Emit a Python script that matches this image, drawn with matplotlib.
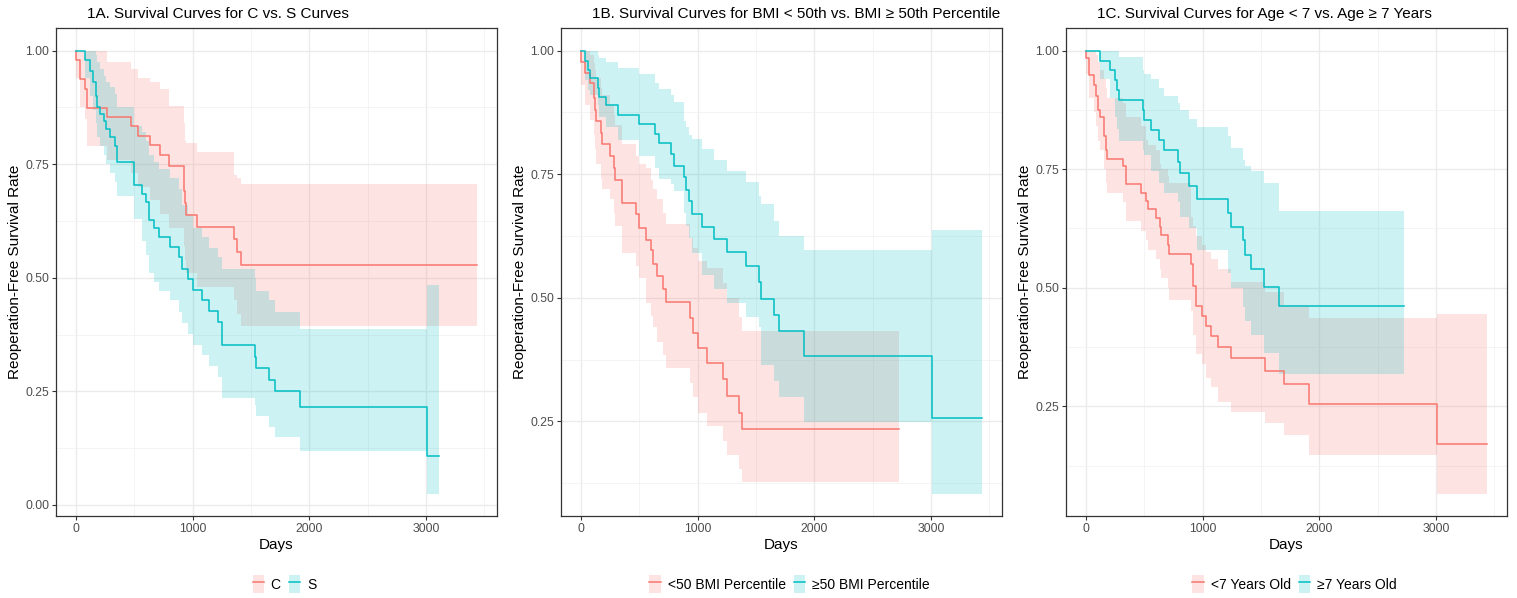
import matplotlib
matplotlib.use("Agg")
import matplotlib.pyplot as plt
from matplotlib.patches import Patch
from matplotlib.lines import Line2D
from matplotlib.ticker import MultipleLocator, FormatStrFormatter

plt.rcParams['font.family'] = ['Liberation Sans', 'DejaVu Sans']

RED = '#F8766D'
CYAN = '#00BFC4'

# ---- 1A: C vs S ----
c_days = [0, 3, 32, 74, 94, 265, 473, 530, 636, 721, 795, 925, 934, 943, 1037, 1350, 1376, 1413]
c_surv = [1.0, 0.98, 0.937, 0.915, 0.873, 0.854, 0.834, 0.813, 0.793, 0.77, 0.746, 0.69, 0.665, 0.637, 0.611, 0.585, 0.557, 0.527]
c_upper = [1.0, 1.0, 1.0, 1.0, 1.0, 0.974, 0.96, 0.94, 0.93, 0.915, 0.878, 0.84, 0.80, 0.796, 0.776, 0.727, 0.72, 0.707]
c_lower = [1.0, 0.94, 0.875, 0.85, 0.79, 0.76, 0.73, 0.70, 0.67, 0.64, 0.61, 0.57, 0.54, 0.51, 0.48, 0.452, 0.42, 0.393]
c_end = 3436

s_days = [0, 77, 120, 148, 168, 182, 202, 239, 254, 288, 330, 353, 496, 564, 601, 621, 667, 707, 801, 886,
          909, 957, 1000, 1077, 1142, 1219, 1251, 1533, 1544, 1650, 1704, 1920, 3009]
s_surv = [1.0, 0.98, 0.955, 0.93, 0.90, 0.875, 0.86, 0.845, 0.827, 0.81, 0.79, 0.755, 0.704, 0.684, 0.666, 0.628, 0.609, 0.59, 0.568, 0.545,
          0.52, 0.497, 0.473, 0.45, 0.426, 0.402, 0.351, 0.326, 0.302, 0.276, 0.251, 0.215, 0.108]
s_upper = [1, 1, 1, 1, 0.99, 0.975, 0.96, 0.945, 0.93, 0.92, 0.905, 0.875, 0.835, 0.82, 0.80, 0.77, 0.755, 0.74, 0.72, 0.695,
           0.66, 0.64, 0.61, 0.59, 0.565, 0.545, 0.52, 0.50, 0.47, 0.45, 0.425, 0.388, 0.485]
s_lower = [1, 0.94, 0.90, 0.87, 0.84, 0.81, 0.79, 0.77, 0.75, 0.73, 0.71, 0.68, 0.63, 0.58, 0.55, 0.51, 0.49, 0.47, 0.45, 0.424,
           0.40, 0.377, 0.351, 0.329, 0.305, 0.282, 0.236, 0.22, 0.195, 0.171, 0.149, 0.119, 0.025]
s_end = 3114

# ---- 1B: BMI ----
lo_days = [0, 3, 31, 74, 111, 123, 128, 168, 180, 245, 280, 288, 354, 473, 496, 559, 601, 620, 650, 701,
           724, 938, 957, 1000, 1080, 1214, 1248, 1350, 1376]
lo_surv = [1, 0.976, 0.954, 0.934, 0.904, 0.88, 0.857, 0.833, 0.81, 0.786, 0.762, 0.739, 0.692, 0.669, 0.642, 0.617, 0.597, 0.569, 0.543, 0.518,
           0.491, 0.459, 0.429, 0.399, 0.368, 0.336, 0.301, 0.267, 0.234]
lo_upper = [1, 1, 1, 0.99, 0.975, 0.96, 0.945, 0.925, 0.91, 0.89, 0.87, 0.85, 0.81, 0.786, 0.77, 0.762, 0.739, 0.72, 0.70, 0.671,
            0.65, 0.62, 0.60, 0.575, 0.56, 0.53, 0.50, 0.462, 0.432]
lo_lower = [1, 0.93, 0.89, 0.86, 0.83, 0.80, 0.77, 0.74, 0.72, 0.70, 0.67, 0.645, 0.59, 0.565, 0.54, 0.49, 0.464, 0.44, 0.41, 0.385,
            0.358, 0.328, 0.30, 0.267, 0.24, 0.21, 0.181, 0.153, 0.127]
lo_end = 2724

hi_days = [0, 37, 60, 74, 145, 151, 217, 316, 496, 630, 667, 770, 795, 886, 900, 929, 949, 1034, 1143, 1251,
           1414, 1522, 1542, 1650, 1698, 1912, 3009]
hi_surv = [1, 0.979, 0.96, 0.944, 0.925, 0.907, 0.89, 0.87, 0.852, 0.832, 0.813, 0.79, 0.767, 0.745, 0.718, 0.695, 0.67, 0.644, 0.619, 0.593,
           0.565, 0.531, 0.498, 0.466, 0.432, 0.383, 0.257]
hi_upper = [1, 1, 1, 1, 0.99, 0.985, 0.976, 0.965, 0.953, 0.935, 0.923, 0.91, 0.895, 0.858, 0.845, 0.83, 0.821, 0.80, 0.779, 0.757,
            0.735, 0.705, 0.69, 0.656, 0.625, 0.596, 0.637]
hi_lower = [1, 0.94, 0.92, 0.91, 0.89, 0.865, 0.845, 0.82, 0.786, 0.762, 0.74, 0.73, 0.715, 0.671, 0.645, 0.62, 0.59, 0.547, 0.518, 0.49,
            0.462, 0.44, 0.365, 0.331, 0.299, 0.248, 0.104]
hi_end = 3436

# ---- 1C: Age ----
young_days = [0, 3, 26, 66, 89, 103, 117, 151, 168, 180, 316, 345, 473, 516, 530, 601, 630, 644, 701, 715,
              901, 915, 940, 991, 1031, 1068, 1134, 1245, 1538, 1695, 1909, 3009]
young_surv = [1, 0.984, 0.949, 0.928, 0.905, 0.875, 0.86, 0.819, 0.791, 0.772, 0.756, 0.719, 0.70, 0.682, 0.666, 0.647, 0.629, 0.611, 0.591, 0.572,
              0.55, 0.503, 0.462, 0.44, 0.419, 0.398, 0.375, 0.352, 0.324, 0.298, 0.255, 0.17]
young_upper = [1, 1, 1, 1, 0.99, 0.975, 0.96, 0.94, 0.92, 0.90, 0.889, 0.86, 0.84, 0.812, 0.80, 0.79, 0.76, 0.75, 0.735, 0.72,
               0.65, 0.63, 0.61, 0.59, 0.575, 0.56, 0.54, 0.513, 0.49, 0.464, 0.436, 0.445]
young_lower = [1, 0.95, 0.90, 0.87, 0.84, 0.81, 0.79, 0.75, 0.72, 0.70, 0.68, 0.64, 0.62, 0.60, 0.58, 0.56, 0.54, 0.52, 0.50, 0.475,
               0.45, 0.40, 0.36, 0.34, 0.31, 0.29, 0.26, 0.238, 0.215, 0.19, 0.148, 0.066]
young_end = 3436

old_days = [0, 117, 202, 245, 265, 279, 487, 496, 559, 624, 664, 787, 801, 886, 949, 1214, 1242, 1342, 1362, 1413, 1527, 1650]
old_surv = [1, 0.979, 0.958, 0.937, 0.916, 0.895, 0.875, 0.854, 0.833, 0.812, 0.791, 0.766, 0.742, 0.714, 0.686, 0.658, 0.629, 0.601, 0.57, 0.54, 0.502, 0.461]
old_upper = [1, 1, 1, 1, 1, 0.987, 0.96, 0.95, 0.94, 0.92, 0.905, 0.89, 0.875, 0.855, 0.839, 0.82, 0.794, 0.77, 0.757, 0.745, 0.72, 0.661]
old_lower = [1, 0.94, 0.90, 0.86, 0.835, 0.81, 0.79, 0.78, 0.745, 0.72, 0.70, 0.68, 0.65, 0.625, 0.58, 0.53, 0.50, 0.46, 0.43, 0.40, 0.363, 0.317]
old_end = 2724

W, H = 1517, 598
fig = plt.figure(figsize=(W / 100, H / 100), dpi=100)


def add_curve(ax, days, surv, upper, lower, end, color):
    # extend the step to the last follow-up time
    t = list(days) + [end]
    ax.fill_between(t, list(lower) + [lower[-1]], list(upper) + [upper[-1]],
                    step='post', color=color, alpha=0.2, linewidth=0)
    return t, list(surv) + [surv[-1]]


def panel(left, title, groups, labels):
    ax = fig.add_axes([left / W, 1 - 515.7 / H, 441 / W, 487.3 / H])
    steps = []
    for g in groups:
        steps.append(add_curve(ax, *g))
    for (t, s), g in zip(steps, groups):
        ax.step(t, s, where='post', color=g[-1], lw=1.1)
    ax.margins(x=0.05, y=0.05)
    ax.xaxis.set_major_locator(MultipleLocator(1000))
    ax.xaxis.set_minor_locator(MultipleLocator(500))
    ax.yaxis.set_major_locator(MultipleLocator(0.25))
    ax.yaxis.set_minor_locator(MultipleLocator(0.125))
    ax.yaxis.set_major_formatter(FormatStrFormatter('%.2f'))
    ax.grid(which='major', color='#EBEBEB', lw=1.0)
    ax.grid(which='minor', color='#F2F2F2', lw=0.6)
    ax.set_axisbelow(True)
    for sp in ax.spines.values():
        sp.set_color('#333333')
        sp.set_linewidth(0.9)
    ax.tick_params(which='major', length=3, width=0.8, color='#333333',
                   labelsize=8.8, labelcolor='#4D4D4D', pad=2)
    ax.tick_params(which='minor', length=0)

    cx = (left + 220.5) / W
    fig.text((left + 31) / W, 1 - 14 / H, title, fontsize=11, ha='left', va='center')
    fig.text(cx, 1 - 545 / H, 'Days', fontsize=11, ha='center', va='center')
    fig.text((left - 41) / W, 1 - 272 / H, 'Reoperation-Free Survival Rate', fontsize=11,
             rotation=90, ha='center', va='center')

    handles = [(Patch(facecolor=g[-1], alpha=0.2, edgecolor='none'),
                Line2D([0], [0], color=g[-1], lw=1.1)) for g in groups]
    fig.legend(handles, labels, loc='center', bbox_to_anchor=(cx + 8 / W, 1 - 584 / H),
               ncol=2, frameon=False, fontsize=10, handlelength=0.8, handleheight=1.7,
               handletextpad=0.5, columnspacing=0.6)
    return ax


panel(56, '1A. Survival Curves for C vs. S Curves',
      [(c_days, c_surv, c_upper, c_lower, c_end, RED),
       (s_days, s_surv, s_upper, s_lower, s_end, CYAN)],
      ['C', 'S'])
panel(561, '1B. Survival Curves for BMI < 50th vs. BMI \u2265 50th Percentile',
      [(lo_days, lo_surv, lo_upper, lo_lower, lo_end, RED),
       (hi_days, hi_surv, hi_upper, hi_lower, hi_end, CYAN)],
      ['<50 BMI Percentile', '\u226550 BMI Percentile'])
panel(1066, '1C. Survival Curves for Age < 7 vs. Age \u2265 7 Years',
      [(young_days, young_surv, young_upper, young_lower, young_end, RED),
       (old_days, old_surv, old_upper, old_lower, old_end, CYAN)],
      ['<7 Years Old', '\u22657 Years Old'])

fig.savefig('out.png', dpi=100)
